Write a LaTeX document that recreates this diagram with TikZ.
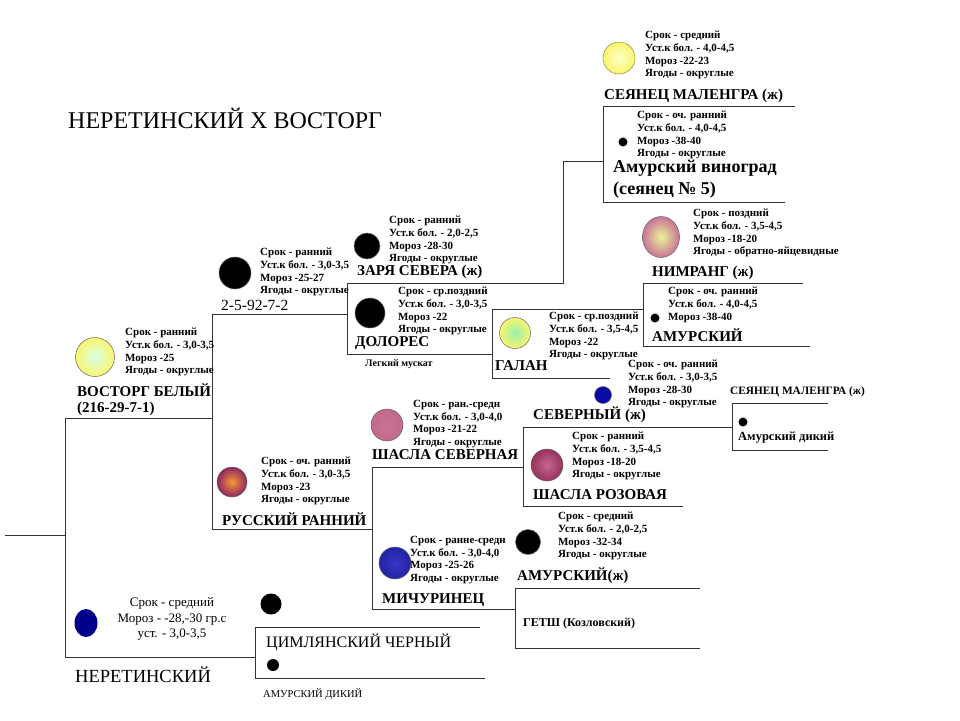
\documentclass[tikz,border=0pt]{standalone}
\usepackage{fontspec}
\setmainfont{Liberation Serif}
\usetikzlibrary{shapes.geometric}

\definecolor{berryYellow}{RGB}{250,245,110}
\definecolor{berryCream}{RGB}{255,255,200}
\definecolor{berryPale}{RGB}{215,255,230}
\definecolor{berryGreen}{RGB}{150,240,170}
\definecolor{berryLime}{RGB}{235,245,150}
\definecolor{berryMauve}{RGB}{200,115,150}
\definecolor{berryRose}{RGB}{195,105,140}
\definecolor{berryWine}{RGB}{150,50,95}
\definecolor{berryOrange}{RGB}{250,150,50}
\definecolor{berryPurple}{RGB}{140,40,100}
\definecolor{berryBlue}{RGB}{55,55,200}
\definecolor{berryDeep}{RGB}{35,35,165}
\definecolor{berryNavy}{RGB}{10,10,165}
\definecolor{berryInk}{RGB}{0,0,140}

\tikzset{
  link/.style={line width=1pt, black!80},
  berry/.style={circle, draw=black!60, line width=0.5pt, inner sep=0pt},
  seed/.style={circle, fill=black, inner sep=0pt},
  info/.style={anchor=west, align=left, inner sep=0pt,
    font=\bfseries\fontsize{11}{12.8}\selectfont},
  cultivar/.style={anchor=west, inner sep=0pt,
    font=\bfseries\fontsize{15}{16}\selectfont},
  plainname/.style={anchor=west, inner sep=0pt,
    font=\fontsize{16}{18}\selectfont},
}

\newcommand{\grapeinfo}[4]{Срок - #1\\Уст.к бол. - #2\\Мороз -#3\\Ягоды - #4}

\begin{document}
\begin{tikzpicture}[x=1pt, y=-1pt]
  \fill[white] (0,0) rectangle (960,720);
  \useasboundingbox (0,0) rectangle (960,720);

  % crossing brackets (top and bottom of each vertical)
  \coordinate (root) at (5,535);
  \foreach \c/\x/\t/\b in {0/65/418/657, 1/212/314/529, 2/347/283/354,
      3/603/106/202, 4/492/309/378, 5/643/283/346, 6/372/467/609,
      7/523/427/506, 8/732/403/450, 9/515/588/648, 10/255/627/678} {
    \coordinate (b\c t) at (\x,\t);
    \coordinate (b\c b) at (\x,\b);
    \draw[link] (b\c t) -- (b\c b);
  }
  \coordinate (zarya) at (563,283);
  \coordinate (b3m) at (603,161);

  \draw[link] (root) -- (root -| b0t);
  \draw[link] (b0t) -- (b0t -| b1t);
  \draw[link] (b0b) -- (b0b -| b10t);
  \draw[link] (b1t) -- (b1t -| b2t);
  \draw[link] (b1b) -- (b1b -| b6t);
  \draw[link] (b2t) -- (zarya) |- (b3m);
  \draw[link] (b2b) -- (b2b -| b4t);
  \draw[link] (b4t) -- (b4t -| b5t);
  \draw[link] (b6t) -- (b6t -| b7t);
  \draw[link] (b6b) -- (b6b -| b9t);
  \draw[link] (b7t) -- (b7t -| b8t);
  % free ends
  \foreach \c/\e in {b3t/795, b3b/785, b4b/610, b5t/803, b5b/810, b7b/683,
      b8t/828, b8b/828, b9t/700, b9b/700, b10t/480, b10b/485}
    \draw[link] (\c) -- (\c -| \e,0);

  \node[plainname, font=\fontsize{24}{26}\selectfont] (title) at (68,118)
    {НЕРЕТИНСКИЙ Х ВОСТОРГ};

  % СЕЯНЕЦ МАЛЕНГРА (ж)
  \node[berry, draw=black!50!yellow, minimum size=32, inner color=berryCream,
    outer color=berryYellow] (malengra) at (619,58) {};
  \node[info] (malengraInfo) at (645,55) {\grapeinfo{средний}{4,0-4,5}{22-23}{округлые}};
  \node[cultivar] (malengraName) at (604,96) {СЕЯНЕЦ МАЛЕНГРА (ж)};

  % Амурский виноград
  \node[seed, minimum size=9] (amurVin) at (623,142) {};
  \node[info] (amurVinInfo) at (637,135) {\grapeinfo{оч. ранний}{4,0-4,5}{38-40}{округлые}};
  \node[cultivar, font=\bfseries\fontsize{18}{22}\selectfont, align=left] (amurVinName)
    at (613,179) {Амурский виноград\\(сеянец № 5)};

  % ЗАРЯ СЕВЕРА (ж)
  \node[berry, fill=black, minimum size=26] (zaria) at (367,246) {};
  \node[info] (zariaInfo) at (389,240) {\grapeinfo{ранний}{2,0-2,5}{28-30}{округлые}};
  \node[cultivar] (zariaName) at (357,272) {ЗАРЯ СЕВЕРА (ж)};

  % ДОЛОРЕС
  \node[berry, fill=black, minimum size=30] (dolores) at (370,313) {};
  \node[info] (doloresInfo) at (398,311) {\grapeinfo{ср.поздний}{3,0-3,5}{22}{округлые}};
  \node[cultivar] (doloresName) at (355,343) {ДОЛОРЕС};
  \node[info, font=\bfseries\fontsize{10}{11}\selectfont] (muscat) at (365,364) {Легкий мускат};

  % ГАЛАН
  \node[berry, minimum size=31, inner color=berryGreen, outer color=berryYellow] (galan) at (515,333) {};
  \node[info] (galanInfo) at (549,336) {\grapeinfo{ср.поздний}{3,5-4,5}{22}{округлые}};
  \node[cultivar] (galanName) at (495,366) {ГАЛАН};

  % НИМРАНГ (ж)
  \node[ellipse, draw=black!60, line width=0.5pt, inner sep=0pt, minimum width=37,
    minimum height=41, inner color=berryLime, outer color=berryMauve] (nimrang) at (661,237) {};
  \node[info] (nimrangInfo) at (693,233) {\grapeinfo{поздний}{3,5-4,5}{18-20}{обратно-яйцевидные}};
  \node[cultivar] (nimrangName) at (652,273) {НИМРАНГ (ж)};

  % АМУРСКИЙ
  \node[seed, minimum size=9] (amur) at (655,318) {};
  \node[info] (amurInfo) at (668,305) {Срок - оч. ранний\\Уст.к бол. - 4,0-4,5\\Мороз -38-40};
  \node[cultivar] (amurName) at (652,335) {АМУРСКИЙ};

  % 2-5-92-7-2
  \node[berry, fill=black, minimum size=32] (form) at (235,273) {};
  \node[info] (formInfo) at (260,272) {\grapeinfo{ранний}{3,0-3,5}{25-27}{округлые}};
  \node[plainname, font=\fontsize{15.5}{17}\selectfont] (formName) at (221,305) {2-5-92-7-2};

  % ВОСТОРГ БЕЛЫЙ
  \node[berry, minimum size=39, inner color=berryPale, outer color=berryYellow] (vostorg) at (95,357) {};
  \node[info] (vostorgInfo) at (125,352) {\grapeinfo{ранний}{3,0-3,5}{25}{округлые}};
  \node[cultivar, align=left, font=\bfseries\fontsize{15}{16}\selectfont] (vostorgName)
    at (77,400) {ВОСТОРГ БЕЛЫЙ\\(216-29-7-1)};

  % СЕВЕРНЫЙ (ж)
  \node[berry, fill=berryNavy, minimum size=17] (severny) at (603,395) {};
  \node[info] (severnyInfo) at (628,384) {\grapeinfo{оч. ранний}{3,0-3,5}{28-30}{округлые}};
  \node[cultivar] (severnyName) at (533,415) {СЕВЕРНЫЙ (ж)};
  \node[info, font=\bfseries\fontsize{11.3}{12}\selectfont] (malengraSmall) at (730,392) {СЕЯНЕЦ МАЛЕНГРА (ж)};
  \node[seed, minimum size=9] (amurDikiy) at (743,422) {};
  \node[info, font=\bfseries\fontsize{12.5}{14}\selectfont] (amurDikiyName) at (738,438) {Амурский дикий};

  % ШАСЛА РОЗОВАЯ
  \node[berry, minimum size=32, inner color=berryRose, outer color=berryWine] (shaslaRoz) at (547,465) {};
  \node[info] (shaslaRozInfo) at (572,456) {\grapeinfo{ранний}{3,5-4,5}{18-20}{округлые}};
  \node[cultivar] (shaslaRozName) at (533,495) {ШАСЛА РОЗОВАЯ};

  % ШАСЛА СЕВЕРНАЯ
  \node[berry, minimum size=32, inner color=berryMauve, outer color=berryRose] (shaslaSev) at (387,425) {};
  \node[info] (shaslaSevInfo) at (413,424) {\grapeinfo{ран.-средн}{3,0-4,0}{21-22}{округлые}};
  \node[cultivar] (shaslaSevName) at (372,455) {ШАСЛА СЕВЕРНАЯ};

  % РУССКИЙ РАННИЙ
  \node[berry, minimum size=30, inner color=berryOrange, outer color=berryPurple] (russky) at (232,482) {};
  \node[info] (russkyInfo) at (261,481) {\grapeinfo{оч. ранний}{3,0-3,5}{23}{округлые}};
  \node[cultivar] (russkyName) at (222,519) {РУССКИЙ РАННИЙ};

  % МИЧУРИНЕЦ
  \node[berry, minimum size=32, inner color=berryBlue, outer color=berryDeep] (michur) at (395,563) {};
  \node[info] (michurInfo) at (410,560) {\grapeinfo{ранне-средн}{3,0-4,0}{25-26}{округлые}};
  \node[cultivar] (michurName) at (382,600) {МИЧУРИНЕЦ};

  % АМУРСКИЙ(ж)
  \node[berry, fill=black, minimum size=25] (amurF) at (528,542) {};
  \node[info] (amurFInfo) at (558,536) {\grapeinfo{средний}{2,0-2,5}{32-34}{округлые}};
  \node[cultivar] (amurFName) at (517,576) {АМУРСКИЙ(ж)};
  \node[info, font=\bfseries\fontsize{12}{14}\selectfont] (getsh) at (523,624) {ГЕТШ (Козловский)};

  % НЕРЕТИНСКИЙ
  \node[ellipse, fill=berryInk, inner sep=0pt, minimum width=23, minimum height=28] (neret) at (86,623) {};
  \node[align=center, inner sep=0pt, font=\fontsize{13}{15.5}\selectfont] (neretInfo) at (172,619)
    {Срок - средний\\Мороз - -28,-30 гр.с\\уст. - 3,0-3,5};
  \node[plainname, font=\fontsize{18.5}{20}\selectfont] (neretName) at (75,675) {НЕРЕТИНСКИЙ};

  % ЦИМЛЯНСКИЙ ЧЕРНЫЙ
  \node[seed, minimum size=21] (tsim) at (271,604) {};
  \node[plainname] (tsimName) at (266,642) {ЦИМЛЯНСКИЙ ЧЕРНЫЙ};
  \node[seed, minimum size=12] (amurWild) at (273,665) {};
  \node[plainname, font=\fontsize{10.5}{12}\selectfont] (amurWildName) at (263,694) {АМУРСКИЙ ДИКИЙ};
\end{tikzpicture}
\end{document}
